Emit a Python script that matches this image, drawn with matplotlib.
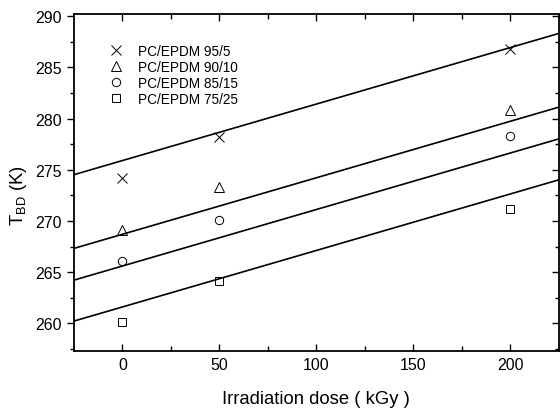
import numpy as np
import matplotlib
matplotlib.use('Agg')
import matplotlib.pyplot as plt

plt.rcParams['font.family'] = ['Liberation Sans', 'DejaVu Sans']
plt.rcParams['mathtext.fontset'] = 'custom'
plt.rcParams['mathtext.rm'] = 'Liberation Sans'
plt.rcParams['mathtext.it'] = 'Liberation Sans'

# irradiation dose (kGy)
dose = [0, 50, 200]
labels = ['PC/EPDM 95/5', 'PC/EPDM 90/10', 'PC/EPDM 85/15', 'PC/EPDM 75/25']
t_95 = [274.2, 278.2, 286.8]
t_90 = [269.1, 273.3, 280.8]
t_85 = [266.1, 270.1, 278.3]
t_75 = [260.1, 264.1, 271.2]
series = [t_95, t_90, t_85, t_75]
markers = ['x', '^', 'o', 's']
msizes = [6.5, 6.5, 6, 5.5]

# straight lines drawn through the data (common slope)
line_slope = 0.0552
line_icpt = [275.9, 268.7, 265.6, 261.6]
line_x = np.array([-25, 225])

fig = plt.figure(figsize=(5.6, 4.1), dpi=100)
ax = fig.add_axes([0.132, 0.1415, 0.866, 0.8215])

for y, m, ms, lab in zip(series, markers, msizes, labels):
    ax.plot(dose, y, linestyle='none', marker=m, markersize=ms,
            markerfacecolor='none', markeredgecolor='black',
            markeredgewidth=0.7, label=lab)

for b in line_icpt:
    ax.plot(line_x, b + line_slope*line_x, color='black', lw=1.2)

ax.set_xlim(-25, 225)
ax.set_ylim(257.3, 290.2)
ax.set_xticks([0, 50, 100, 150, 200])
ax.set_xticks(np.arange(0, 226, 25), minor=True)
ax.set_yticks(np.arange(260, 291, 5))
ax.set_yticks(np.arange(257.5, 290.1, 2.5), minor=True)

ax.tick_params(axis='x', which='both', direction='in', top=True,
               labelsize=11.5, width=1.0, pad=4)
ax.tick_params(axis='x', which='major', length=5)
ax.tick_params(axis='x', which='minor', length=3.4)
ax.tick_params(axis='y', which='both', direction='out', labelsize=11.5,
               width=1.0)
ax.tick_params(axis='y', which='major', length=5)
ax.tick_params(axis='y', which='minor', length=3)
ax.tick_params(axis='y', which='both', right=True)
for t in ax.yaxis.get_ticklines(minor=False)[1::2]:
    t.set_marker(0)
for t in ax.yaxis.get_ticklines(minor=True)[1::2]:
    t.set_marker(0)
for s in ax.spines.values():
    s.set_linewidth(1.3)

ax.set_xlabel('Irradiation dose ( kGy )', fontsize=13.3, labelpad=13)
ax.set_ylabel(r'T$_{\mathrm{BD}}$ (K)', fontsize=13.3)
ax.yaxis.set_label_coords(-0.092, 0.463)

ax.legend(loc='upper left', bbox_to_anchor=(0.05, 0.94), frameon=False,
          fontsize=9.8, handletextpad=1.0, labelspacing=0.15,
          handlelength=1.2, borderpad=0.2)

fig.savefig('out.png', dpi=100)
